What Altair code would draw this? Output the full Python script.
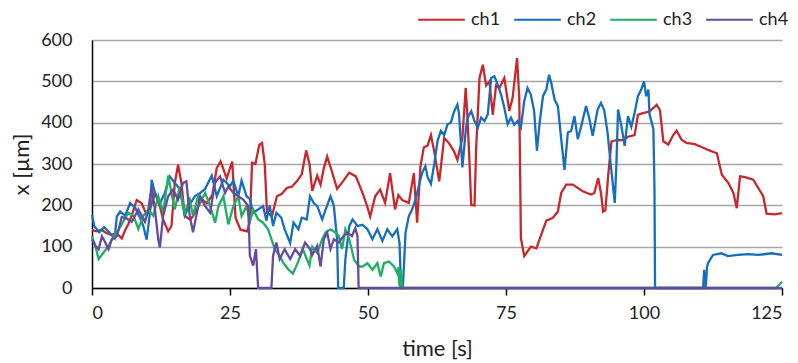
import altair as alt
import pandas as pd

series_names = ["ch1", "ch2", "ch3", "ch4"]
series_colors = ["#C8282D", "#166EBE", "#1EAF64", "#644BA0"]

ch1_t = [0, 0.8, 1.7, 2.6, 3.5, 4.4, 5.4, 6.0, 6.6, 7.2, 8.1, 9.0, 9.9, 10.5, 11.4, 12.3, 12.9, 13.8, 14.4,
         15.0, 15.6, 16.2, 16.8, 17.8, 18.7, 19.9, 20.8, 21.8, 22.6, 23.3, 24.4, 25.4, 26.0, 26.9, 28.1, 28.6,
         29.0, 29.6, 30.3, 30.8, 31.3, 31.7, 32.6, 33.5, 34.4, 35.3, 36.2, 37.1, 38.0, 38.8, 39.4, 39.9, 40.8,
         41.4, 42.0, 42.6, 43.5, 44.4, 45.3, 46.6, 47.8, 49.0, 49.8, 50.4, 51.3, 52.2, 53.1, 54.0, 54.9, 55.5,
         56.2, 57.4, 58.3, 58.9, 59.5, 60.1, 60.8, 61.4, 62.0, 62.9, 63.8, 64.7, 65.6, 66.2, 67.1, 67.7, 68.0,
         68.4, 68.7, 69.3, 69.6, 70.2, 70.8, 71.4, 72.0, 72.6, 73.2, 73.8, 74.7, 75.6, 76.2, 77.0, 77.4, 77.7,
         78.3, 79.5, 80.5, 81.4, 82.3, 83.5, 84.4, 85.0, 85.9, 87.1, 88.9, 90.4, 91.0, 91.7, 92.2, 92.6, 93.0,
         93.5, 94.1, 95.0, 96.2, 97.1, 98.3, 98.9, 99.8, 101.0, 102.3, 102.9, 103.5, 104.4, 105.3, 105.9, 106.8,
         107.7, 109.2, 110.4, 111.6, 113.2, 114.1, 115.3, 116.2, 116.8, 117.4, 118.3, 119.8, 120.7, 121.6,
         122.2, 123.7, 125.0]
ch1_v = [140, 137, 141, 133, 128, 133, 120, 140, 155, 176, 213, 205, 176, 190, 230, 198, 165, 137, 150,
         254, 298, 254, 175, 165, 182, 215, 205, 225, 290, 306, 265, 306, 170, 141, 137, 160,
         303, 300, 346, 351, 300, 182, 174, 222, 228, 242, 245, 258, 275, 333, 300, 235, 272,
         250, 290, 318, 280, 240, 255, 279, 270, 230, 200, 173, 222, 238, 206, 278, 190, 225,
         213, 206, 278, 158, 294, 340, 345, 370, 330, 258, 363, 350, 330, 310, 363, 484, 420,
         300, 201, 200, 340, 508, 540, 490, 500, 419, 490, 484, 508, 428, 460, 556, 460, 121,
         77, 100, 96, 130, 163, 170, 185, 230, 250, 250, 234, 226, 230, 266, 230, 185, 188,
         270, 354, 358, 358, 366, 370, 419, 423, 427, 443, 430, 355, 347, 370, 381, 359,
         351, 348, 341, 334, 326, 274, 254, 230, 193, 270, 268, 262, 242, 222,
         180, 178, 181]

ch2_t = [0, 0.4, 1.3, 2.2, 3.1, 4.1, 4.5, 5.1, 6.0, 6.9, 7.8, 8.7, 9.3, 9.9, 10.5, 10.8, 11.4, 12.3, 13.2,
         14.1, 15.0, 15.9, 16.8, 17.8, 18.7, 19.6, 20.5, 21.7, 22.6, 23.8, 25.0, 25.6, 26.5, 27.1, 28.0, 28.6,
         29.2, 30.1, 31.0, 31.6, 32.2, 32.8, 33.4, 34.3, 34.9, 35.9, 36.5, 37.4, 38.0, 38.9, 39.5, 40.2, 40.8,
         41.7, 42.6, 43.2, 43.8, 44.4, 44.6, 45.6, 45.9, 46.6, 47.2, 48.1, 49.0, 49.9, 50.8, 51.7, 52.6, 53.5,
         54.4, 55.3, 55.7, 56.0, 56.3, 56.5, 56.8, 57.4, 58.0, 58.6, 59.2, 59.8, 60.4, 60.8, 61.4, 62.0, 62.6,
         63.2, 63.8, 64.4, 65.0, 65.6, 66.2, 66.5, 67.1, 67.7, 68.0, 68.7, 69.3, 69.9, 70.5, 71.1, 71.7, 72.3,
         72.9, 73.5, 74.1, 74.7, 75.3, 75.9, 76.5, 77.1, 77.7, 78.3, 78.9, 79.5, 80.1, 80.6, 81.1, 81.7, 82.3,
         82.8, 83.2, 83.8, 84.4, 85.0, 85.6, 86.2, 86.8, 87.4, 88.0, 88.6, 89.5, 90.1, 90.7, 91.6, 92.2, 92.8,
         93.4, 94.0, 94.7, 95.0, 95.3, 95.9, 96.5, 97.1, 97.7, 98.3, 98.9, 99.5, 100.0, 100.4, 100.8, 101.0,
         101.4, 101.7, 101.9, 102.0, 110.7, 110.9, 111.0, 111.2, 111.4, 111.6, 112.5, 114.0, 115.2, 117.0,
         118.9, 120.7, 123.1, 125.0]
ch2_v = [177, 150, 135, 147, 135, 120, 173, 185, 175, 205, 195, 170, 150, 117, 183, 262, 230, 205, 230,
         270, 254, 240, 175, 205, 223, 230, 240, 272, 222, 262, 246, 260, 222, 260, 222, 215,
         182, 190, 198, 163, 200, 150, 182, 170, 142, 109, 158, 142, 170, 166, 222, 205, 198,
         166, 200, 222, 200, 118, 0, 0, 70, 149, 166, 150, 153, 142, 118, 142, 114, 142,
         125, 142, 110, 0, 0, 50, 134, 174, 190, 214, 246, 278, 295, 268, 252, 300, 356,
         380, 370, 396, 400, 427, 444, 420, 292, 380, 410, 428, 404, 388, 412, 404, 420, 508,
         512, 492, 468, 436, 396, 412, 395, 404, 388, 452, 484, 468, 428, 332, 400, 464, 480,
         516, 496, 456, 440, 360, 286, 376, 380, 416, 360, 390, 440, 410, 368, 432, 448, 430,
         376, 296, 206, 300, 432, 392, 344, 416, 390, 424, 464, 480, 500, 464, 480, 420,
         400, 385, 240, 0, 0, 44, 0, 0, 50, 60, 80, 84, 77, 80,
         82, 80, 84, 80]

ch3_t = [0, 0.6, 1.2, 2.1, 3.0, 3.9, 4.8, 5.7, 6.6, 7.5, 8.4, 9.3, 10.2, 11.1, 12.0, 12.9, 13.8, 14.4, 15.0,
         15.9, 16.8, 17.7, 18.3, 19.2, 19.6, 20.5, 21.4, 22.3, 22.9, 23.8, 24.7, 25.6, 26.5, 27.1, 28.0, 28.6,
         29.2, 30.1, 31.0, 31.9, 32.5, 33.1, 34.0, 34.6, 35.5, 36.4, 37.3, 38.2, 39.4, 39.9, 40.8, 41.7, 42.3,
         43.2, 44.1, 44.7, 45.3, 45.9, 46.6, 47.5, 48.4, 49.0, 49.9, 50.8, 51.7, 52.3, 52.9, 53.8, 54.7, 55.3,
         55.5, 55.7, 55.9, 56.2, 123.9, 125.0]
ch3_v = [125, 102, 70, 86, 102, 125, 140, 162, 182, 175, 143, 175, 190, 175, 222, 182, 272, 230, 190,
         245, 182, 214, 175, 222, 206, 230, 198, 158, 198, 222, 154, 198, 222, 174, 198, 160,
         190, 166, 158, 142, 118, 94, 78, 62, 46, 35, 62, 94, 54, 100, 85, 118, 134,
         142, 134, 126, 94, 142, 118, 68, 52, 52, 60, 44, 60, 28, 60, 64, 52, 36,
         50, 4, 45, 0, 0, 15]

ch4_t = [0, 0.6, 1.2, 1.8, 2.4, 3.0, 3.6, 4.5, 5.4, 6.3, 7.2, 7.8, 8.4, 9.0, 9.6, 10.2, 10.8, 11.4, 12.0,
         12.3, 12.9, 13.8, 14.7, 15.6, 16.5, 17.1, 17.7, 18.3, 18.9, 19.6, 20.5, 21.4, 22.3, 23.2, 24.1, 24.7,
         25.6, 26.5, 27.4, 28.3, 28.6, 29.2, 29.7, 30.1, 32.5, 32.8, 33.4, 34.0, 34.9, 35.9, 36.8, 37.7, 38.6,
         39.5, 39.9, 40.8, 41.4, 42.0, 42.6, 43.2, 43.8, 44.7, 45.6, 46.2, 47.1, 47.7, 48.1, 48.3, 125.0]
ch4_v = [118, 102, 94, 125, 110, 94, 118, 125, 172, 168, 160, 175, 190, 175, 160, 190, 245, 190, 118,
         98, 175, 222, 238, 214, 254, 258, 175, 135, 175, 222, 198, 182, 255, 270, 230, 246,
         230, 222, 214, 198, 78, 54, 94, 0, 0, 78, 110, 70, 94, 70, 94, 78, 110,
         94, 80, 102, 52, 118, 134, 94, 118, 110, 126, 134, 126, 145, 125, 0, 0]

rows = []
for name, ts, vs in [("ch1", ch1_t, ch1_v), ("ch2", ch2_t, ch2_v),
                     ("ch3", ch3_t, ch3_v), ("ch4", ch4_t, ch4_v)]:
    for t, v in zip(ts, vs):
        rows.append({"time": t, "pos": v, "ch": name})
df = pd.DataFrame(rows)

FONT = "Lato"
TXT = "#222222"

chart = alt.Chart(df).mark_line(strokeWidth=2.3, interpolate="linear").encode(
    x=alt.X("time:Q",
            scale=alt.Scale(domain=[0, 125], nice=False, zero=False),
            axis=alt.Axis(values=[0, 25, 50, 75, 100, 125], title="time [s]", grid=False,
                          domainColor="#000000", domainWidth=1.5, tickColor="#000000", tickWidth=1.5,
                          tickSize=7, labelPadding=9, labelFontSize=18, labelColor=TXT,
                          labelFont=FONT, titleFont=FONT, titleFontSize=22, titleFontWeight="normal",
                          titleColor=TXT, titlePadding=16)),
    y=alt.Y("pos:Q",
            scale=alt.Scale(domain=[0, 600], nice=False),
            axis=alt.Axis(values=[0, 100, 200, 300, 400, 500, 600], title="x [µm]", grid=True,
                          gridColor="#A6A6A6", gridWidth=1.5, domainColor="#000000", domainWidth=1.5,
                          ticks=False, labelPadding=20, labelFontSize=18, labelColor=TXT,
                          labelFont=FONT, titleFont=FONT, titleFontSize=22, titleFontWeight="normal",
                          titleColor=TXT, titlePadding=7)),
    color=alt.Color("ch:N",
                    scale=alt.Scale(domain=series_names, range=series_colors),
                    legend=alt.Legend(title=None, orient="none", legendX=325, legendY=-45,
                                      direction="horizontal", symbolType="stroke", symbolSize=2180,
                                      symbolStrokeWidth=2.2, labelOffset=5, columnPadding=8,
                                      labelFontSize=18, labelFont=FONT, labelColor=TXT,
                                      labelLimit=0, padding=0)),
).properties(
    width=690, height=248,
    autosize=alt.AutoSizeParams(type="none"),
    padding={"left": 84, "top": 32, "right": 8, "bottom": 75},
).configure_view(stroke=None)

chart.save("out.html", embed_options={"renderer": "svg", "actions": False})
